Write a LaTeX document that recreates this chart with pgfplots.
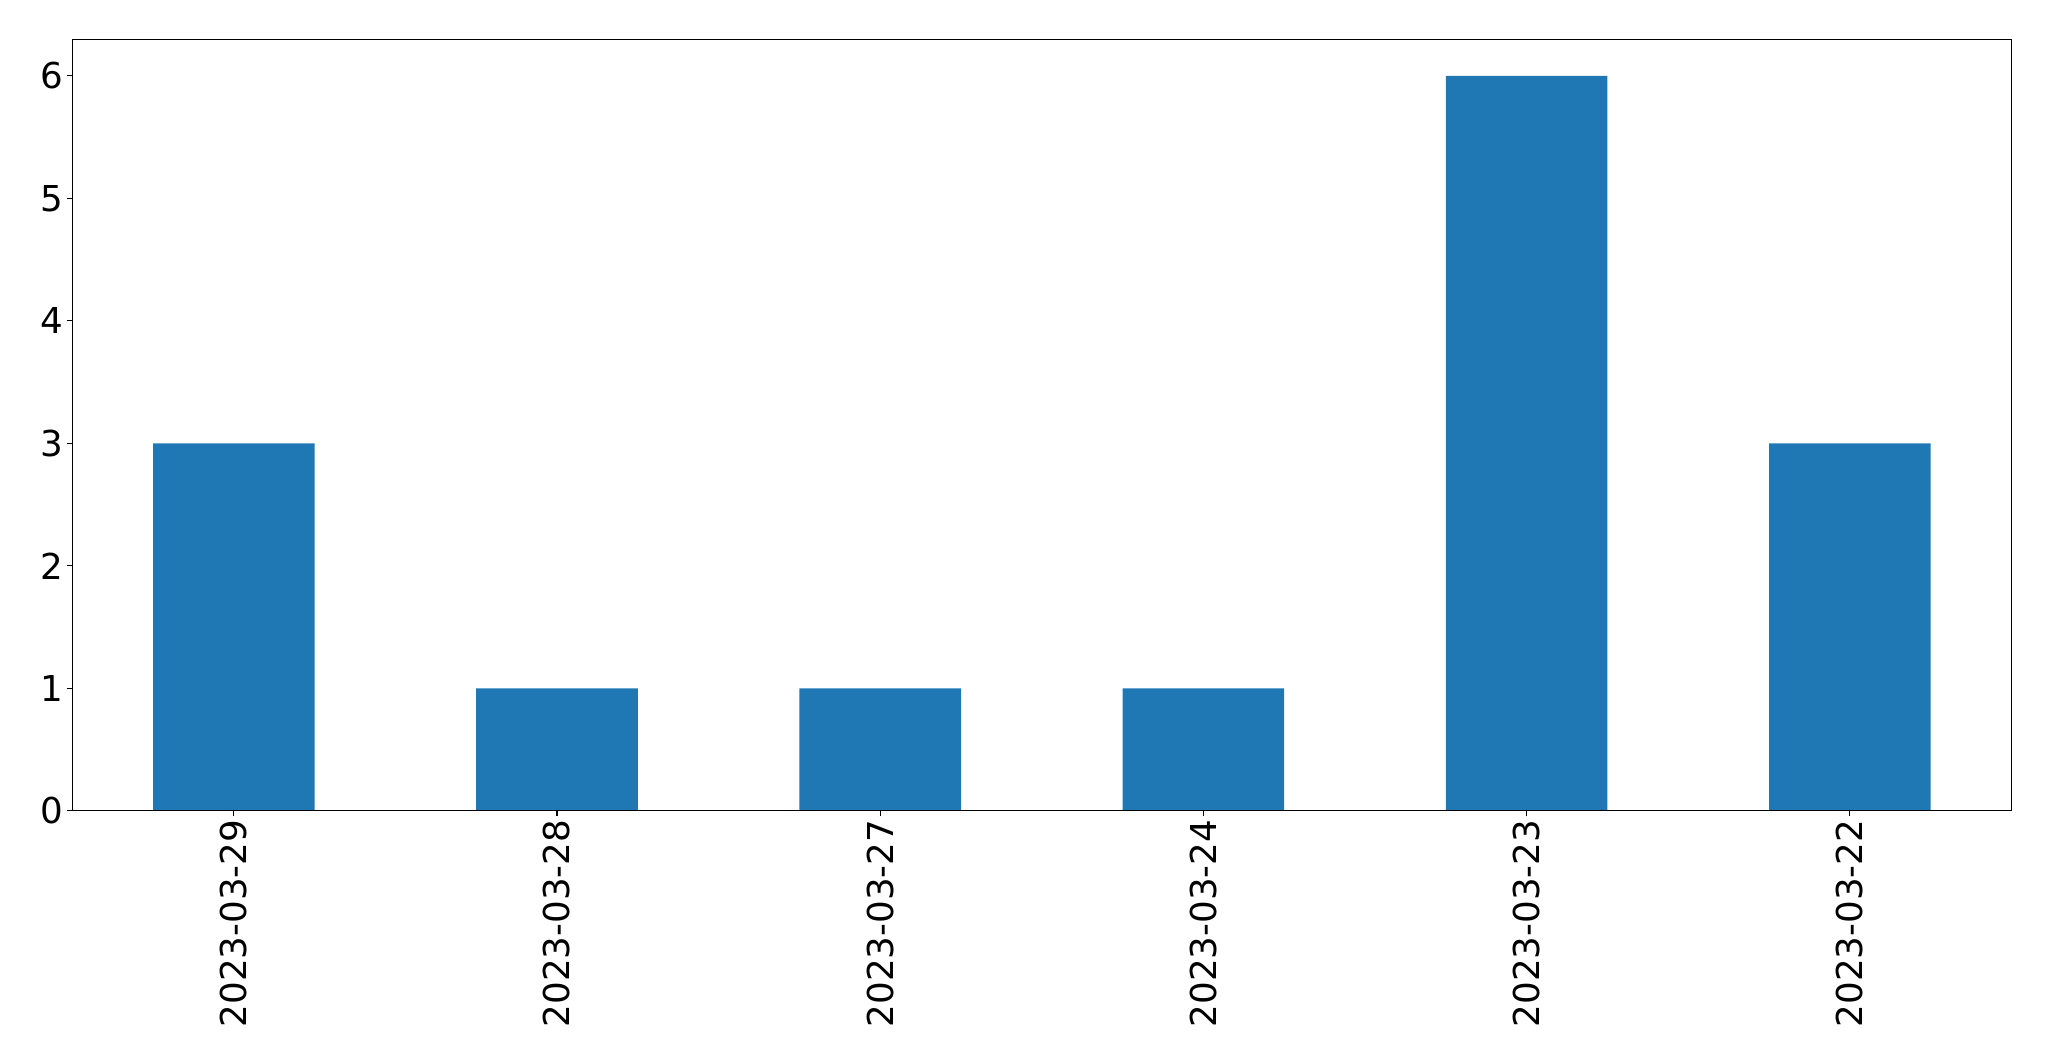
\documentclass[border=0pt]{standalone}
\usepackage{pgfplots}
\pgfplotsset{compat=1.18}
\usepackage{fontspec}
\setmainfont{DejaVu Sans}
\definecolor{barblue}{HTML}{1F77B4}
\begin{document}
\begin{tikzpicture}
    \begin{axis}[%
            name=ax,
            scale only axis,
            width=696pt,
            height=277pt,
            xmin=-0.5, xmax=5.5,
            ymin=0, ymax=6.3,
            xtick={0,1,2,3,4,5},
            xticklabels={2023-03-29,2023-03-28,2023-03-27,2023-03-24,2023-03-23,2023-03-22},
            ytick={0,1,2,3,4,5,6},
            tick align=outside,
            tick pos=left,
            major tick length=2pt,
            axis line style={line width=0.4pt},
            every tick/.style={black, line width=0.4pt},
            /pgf/number format/assume math mode=true,
            tick label style={font=\fontsize{12.8}{15}\selectfont},
            xticklabel style={rotate=90, anchor=east, inner sep=1pt},
            yticklabel style={inner sep=1pt},
        axis on top]
        \addplot[
            ybar,
            bar width=0.5,
            bar shift=0pt,
            fill=barblue,
        draw=none]
        coordinates{
            (0,3) (1,1) (2,1) (3,1) (4,6) (5,3)
        };
    \end{axis}
    \path ([xshift=-25.92pt,yshift=-89.28pt]ax.south west) rectangle ([xshift=13.5pt,yshift=14.04pt]ax.north east);
\end{tikzpicture}
\end{document}
